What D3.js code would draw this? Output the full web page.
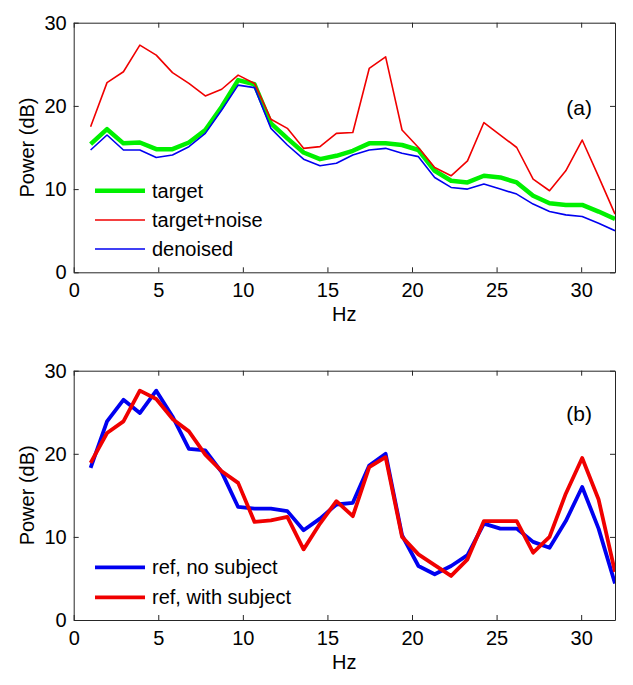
<!DOCTYPE html>
<html>
<head>
<meta charset="utf-8">
<script src="https://cdn.jsdelivr.net/npm/d3@7/dist/d3.min.js"></script>
<style>
  html, body { margin: 0; padding: 0; background: #fff; }
  svg { display: block; }
  text { font-family: "Liberation Sans", Arial, sans-serif; fill: #000; }
</style>
</head>
<body>
<svg id="chart" width="633" height="685"></svg>
<script>
// Frequencies (Hz)
const freqs = [1, 1.97, 2.94, 3.91, 4.88, 5.84, 6.81, 7.78, 8.75, 9.72, 10.69,
  11.66, 12.63, 13.59, 14.56, 15.53, 16.5, 17.47, 18.44, 19.41, 20.38, 21.34,
  22.31, 23.28, 24.25, 25.22, 26.19, 27.16, 28.13, 29.09, 30.06, 31.03, 32];

// Panel (a)
const target = [15.4, 17.2, 15.5, 15.6, 14.8, 14.8, 15.6, 17.1, 19.9, 23.1, 22.6,
  17.9, 16.1, 14.4, 13.6, 14.0, 14.6, 15.5, 15.5, 15.3, 14.7, 12.2, 11.0, 10.8,
  11.6, 11.4, 10.8, 9.2, 8.3, 8.1, 8.1, 7.3, 6.4];
const targetNoise = [17.5, 22.8, 24.1, 27.3, 26.1, 24.0, 22.7, 21.2, 22.0, 23.7, 22.7,
  18.4, 17.3, 14.9, 15.1, 16.7, 16.8, 24.5, 25.9, 17.1, 15.0, 12.6, 11.6, 13.4,
  18.0, 16.5, 15.0, 11.2, 9.8, 12.2, 15.9, 11.5, 7.0];
const denoised = [14.7, 16.5, 14.7, 14.7, 13.8, 14.1, 15.1, 16.7, 19.5, 22.5, 22.2,
  17.3, 15.3, 13.6, 12.8, 13.1, 14.1, 14.7, 14.9, 14.3, 13.9, 11.4, 10.2, 10.0,
  10.6, 10.0, 9.4, 8.2, 7.3, 6.9, 6.7, 5.9, 5.0];

// Panel (b)
const refNoSubject = [18.3, 23.9, 26.5, 24.9, 27.6, 24.5, 20.6, 20.4, 17.8, 13.6, 13.4,
  13.4, 13.1, 10.8, 12.2, 13.9, 14.1, 18.6, 20.0, 10.2, 6.5, 5.5, 6.5, 7.8,
  11.6, 11.0, 11.0, 9.4, 8.7, 11.9, 16.0, 11.0, 4.4];
const refWithSubject = [18.9, 22.5, 23.9, 27.6, 26.6, 24.2, 22.7, 19.9, 17.9, 16.5, 11.8,
  12.0, 12.4, 8.5, 11.6, 14.3, 12.5, 18.4, 19.6, 10.0, 7.9, 6.6, 5.3, 7.3,
  11.9, 11.9, 11.9, 8.1, 10.0, 15.2, 19.5, 14.5, 5.8];

const xTicks = [0, 5, 10, 15, 20, 25, 30];
const yTicks = [0, 10, 20, 30];
const xLabel = "Hz";
const yLabel = "Power (dB)";

const panels = [
  {
    top: 22.7, bottom: 272.3, tag: "(a)", tagY: 115,
    series: [
      { name: "target", values: target, color: "#00f000", width: 4.5 },
      { name: "target+noise", values: targetNoise, color: "#f00000", width: 1.6 },
      { name: "denoised", values: denoised, color: "#0000f0", width: 1.6 }
    ],
    legendY: [190.7, 220, 249]
  },
  {
    top: 370.7, bottom: 620, tag: "(b)", tagY: 421,
    series: [
      { name: "ref, no subject", values: refNoSubject, color: "#0000f0", width: 3.8 },
      { name: "ref, with subject", values: refWithSubject, color: "#f00000", width: 3.8 }
    ],
    legendY: [567.3, 597.3]
  }
];

const left = 73.7, right = 615;
const svg = d3.select("#chart");
svg.append("rect").attr("width", 633).attr("height", 685).attr("fill", "#fff");

const x = d3.scaleLinear().domain([0, 32]).range([left, right]);

panels.forEach((p, pi) => {
  const y = d3.scaleLinear().domain([0, 30]).range([p.bottom, p.top]);
  const g = svg.append("g");
  const clipId = "clip" + pi;
  svg.append("clipPath").attr("id", clipId)
    .append("rect").attr("x", left).attr("y", p.top)
    .attr("width", right - left).attr("height", p.bottom - p.top);

  const line = d3.line().x((d, i) => x(freqs[i])).y(d => y(d));
  p.series.forEach(s => {
    g.append("path")
      .datum(s.values)
      .attr("clip-path", `url(#${clipId})`)
      .attr("fill", "none")
      .attr("stroke", s.color)
      .attr("stroke-width", s.width)
      .attr("stroke-linejoin", "round")
      .attr("d", line);
  });

  // axes box
  const styleAxis = sel => {
    sel.selectAll("path.domain").attr("stroke", "#262626");
    sel.selectAll(".tick line").attr("stroke", "#262626");
    sel.selectAll("text").attr("font-size", 20)
      .attr("font-family", '"Liberation Sans", Arial, sans-serif').attr("fill", "#111");
  };
  g.append("g").attr("transform", `translate(0,${p.bottom})`)
    .call(d3.axisBottom(x).tickValues(xTicks).tickSizeInner(-5).tickSizeOuter(0).tickPadding(11))
    .call(styleAxis);
  g.append("g").attr("transform", `translate(0,${p.top})`)
    .call(d3.axisTop(x).tickValues(xTicks).tickSizeInner(-5).tickSizeOuter(0).tickFormat(""))
    .call(styleAxis);
  g.append("g").attr("transform", `translate(${left},0)`)
    .call(d3.axisLeft(y).tickValues(yTicks).tickSizeInner(-5).tickSizeOuter(0).tickPadding(7))
    .call(styleAxis);
  g.append("g").attr("transform", `translate(${right},0)`)
    .call(d3.axisRight(y).tickValues(yTicks).tickSizeInner(-5).tickSizeOuter(0).tickFormat(""))
    .call(styleAxis);
  g.selectAll(".domain").attr("fill", "none");

  // labels
  g.append("text").attr("x", (left + right) / 2).attr("y", p.bottom + 49)
    .attr("text-anchor", "middle").attr("font-size", 20).text(xLabel);
  g.append("text")
    .attr("transform", `translate(34,${(p.top + p.bottom) / 2}) rotate(-90)`)
    .attr("text-anchor", "middle").attr("font-size", 20).text(yLabel);
  g.append("text").attr("x", 592).attr("y", p.tagY)
    .attr("text-anchor", "end").attr("font-size", 21).text(p.tag);

  // legend
  p.series.forEach((s, i) => {
    const ly = p.legendY[i];
    g.append("line").attr("x1", 95).attr("x2", 145).attr("y1", ly).attr("y2", ly)
      .attr("stroke", s.color).attr("stroke-width", s.width);
    g.append("text").attr("x", 152).attr("y", ly + 7)
      .attr("font-size", 20).text(s.name);
  });
});
</script>
</body>
</html>
